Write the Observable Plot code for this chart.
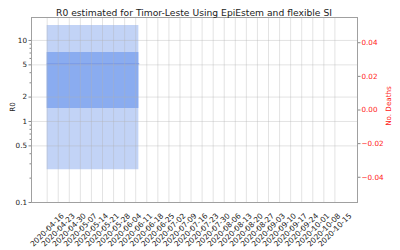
<!DOCTYPE html>
<html>
<head>
<meta charset="utf-8">
<script src="https://cdn.jsdelivr.net/npm/d3@7"></script>
<script src="https://cdn.jsdelivr.net/npm/@observablehq/plot@0.6"></script>
<style>
  html, body { margin: 0; padding: 0; background: #fff; }
  #wrap { position: relative; width: 400px; height: 250px; font-family: "DejaVu Sans", sans-serif; }
  #wrap > div.layer { position: absolute; left: 0; top: 0; }
  #title { position: absolute; left: 31px; top: 8.2px; width: 326px; text-align: center; font-size: 9.2px; line-height: 1; color: #222; white-space: nowrap; }
</style>
</head>
<body>
<div id="wrap">
  <div class="layer" id="left"></div>
  <div class="layer" id="right"></div>
  <div id="title">R0 estimated for Timor-Leste Using EpiEstem and flexible SI</div>
</div>
<script>
// ---- data ----
const estDates = ["2020-04-16", "2020-06-13"];
const rMean = [5.15, 5.15];
const rLow95 = [0.254, 0.254];
const rHigh95 = [15.3, 15.3];
const rLow50 = [1.45, 1.45];
const rHigh50 = [7.1, 7.1];

const tickDates = ["2020-04-16","2020-04-23","2020-04-30","2020-05-07","2020-05-14","2020-05-21","2020-05-28",
  "2020-06-04","2020-06-11","2020-06-18","2020-06-25","2020-07-02","2020-07-09","2020-07-16","2020-07-23",
  "2020-07-30","2020-08-06","2020-08-13","2020-08-20","2020-08-27","2020-09-03","2020-09-10","2020-09-17",
  "2020-09-24","2020-10-01","2020-10-08","2020-10-15"];
const rTicks = [0.1, 0.5, 1, 2, 5, 10];
const rTickLabels = ["0.1", "0.5", "1", "2", "5", "10"];
const rMinorTicks = [0.2, 0.3, 0.4, 0.6, 0.7, 0.8, 0.9, 3, 4, 6, 7, 8, 9];
const deathTicks = [-0.04, -0.02, 0, 0.02, 0.04];
const xDomain = ["2020-04-06T02:00Z", "2020-10-29T07:00Z"];
const rDomain = [0.1, 19.2];
const deathDomain = [-0.055, 0.055];

const est = estDates.map((d, i) => ({
  date: new Date(d), mean: rMean[i], lo95: rLow95[i], hi95: rHigh95[i], lo50: rLow50[i], hi50: rHigh50[i]
}));
const ticks = tickDates.map(d => new Date(d));
const rLabelData = rTicks.map((v, i) => ({v, label: rTickLabels[i]}));

const W = 400, H = 250;
const M = {marginLeft: 31, marginRight: 43, marginTop: 17, marginBottom: 48};
const font = "DejaVu Sans";
const FS = 7.2;

const left = Plot.plot({
  width: W, height: H, ...M,
  style: {fontFamily: font, fontSize: FS + "px", background: "transparent", color: "#222"},
  x: {type: "utc", domain: xDomain.map(d => new Date(d))},
  y: {type: "log", domain: rDomain},
  marks: [
    Plot.areaY(est, {x: "date", y1: "lo95", y2: "hi95", fill: "#c2d3f6"}),
    Plot.areaY(est, {x: "date", y1: "lo50", y2: "hi50", fill: "#8aacf0"}),
    Plot.lineY(est, {x: "date", y: "mean", stroke: "#7797e6", strokeWidth: 1}),
    Plot.gridX(ticks, {stroke: "#b0b0b0", strokeOpacity: 0.45, strokeWidth: 0.8}),
    Plot.gridY(rTicks, {stroke: "#b0b0b0", strokeOpacity: 0.45, strokeWidth: 0.8}),
    Plot.frame({stroke: "#a0a0a0", strokeWidth: 1}),
    Plot.axisY(rMinorTicks, {tickSize: 1.5, tickFormat: () => "", stroke: "#888", label: null}),
    Plot.axisY(rTicks, {tickSize: 2.5, tickFormat: () => "", stroke: "#888", label: null}),
    Plot.text(rLabelData, {y: "v", text: "label", frameAnchor: "left", textAnchor: "end", dx: -4.5, fill: "#222", fontSize: FS}),
    Plot.axisX(ticks, {tickSize: 2.5, tickPadding: 0, tickFormat: d3.utcFormat("%Y-%m-%d"), tickRotate: -45, stroke: "#888", fill: "#222", label: null,
      textAnchor: "middle", lineAnchor: "middle", fontSize: 7.5, dx: 0, dy: 25}),
    Plot.text(["R0"], {frameAnchor: "left", textAnchor: "middle", dx: -19, dy: -3, rotate: -90, fill: "#222", fontSize: FS})
  ]
});
document.getElementById("left").append(left);

const right = Plot.plot({
  width: W, height: H, ...M,
  style: {fontFamily: font, fontSize: FS + "px", background: "transparent"},
  y: {domain: deathDomain},
  marks: [
    Plot.axisY(deathTicks, {anchor: "right", tickSize: 2.5, tickPadding: 1.5, tickFormat: d3.format(".2f"), stroke: "#888", fill: "#ff2020", label: null}),
    Plot.text(["No. Deaths"], {frameAnchor: "right", textAnchor: "middle", dx: 31, dy: -4, rotate: -90, fill: "#ff2020", fontSize: FS})
  ]
});
document.getElementById("right").append(right);
</script>
</body>
</html>
